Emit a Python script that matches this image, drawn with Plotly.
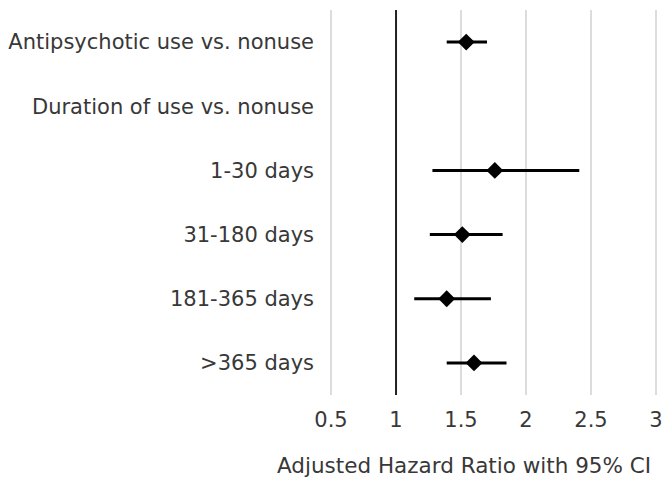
import plotly.graph_objects as go

categories = ["Antipsychotic use vs. nonuse", "Duration of use vs. nonuse",
              "1-30 days", "31-180 days", "181-365 days", ">365 days"]
hr = [1.54, None, 1.76, 1.51, 1.39, 1.60]
ci_low = [1.39, None, 1.28, 1.26, 1.14, 1.39]
ci_high = [1.70, None, 2.41, 1.82, 1.73, 1.85]
x_ticks = [0.5, 1, 1.5, 2, 2.5, 3]
x_tick_labels = ["0.5", "1", "1.5", "2", "2.5", "3"]
x_title = "Adjusted Hazard Ratio with 95% CI"

plus = [(h - v) if v is not None else None for v, h in zip(hr, ci_high)]
minus = [(v - l) if v is not None else None for v, l in zip(hr, ci_low)]

font = dict(family="DejaVu Sans, Verdana, sans-serif", size=21, color="#383838")

fig = go.Figure()
fig.add_trace(go.Scatter(
    x=hr, y=categories, mode="markers",
    marker=dict(symbol="diamond", size=13, color="black"),
    error_x=dict(type="data", symmetric=False, array=plus, arrayminus=minus,
                 thickness=3, width=0, color="black"),
    showlegend=False, hoverinfo="skip"))

fig.add_shape(type="line", x0=1, x1=1, y0=0, y1=1, xref="x", yref="paper",
              line=dict(color="#222222", width=2))

fig.add_annotation(text=x_title, xref="paper", yref="paper", x=0.41, y=-0.184,
                   xanchor="center", yanchor="middle", showarrow=False,
                   font=dict(size=21.5))

fig.update_layout(
    width=662, height=481,
    margin=dict(l=330, r=5, t=10, b=86),
    plot_bgcolor="white", paper_bgcolor="white",
    font=font,
    xaxis=dict(range=[0.492, 3.008], tickvals=x_ticks, ticktext=x_tick_labels,
               showgrid=True, gridcolor="#dcdcdc", gridwidth=2, zeroline=False,
               showline=False, ticks="", ticklabelstandoff=10, automargin=False,
               ticklabeloverflow="allow", tickfont=dict(size=21)),
    yaxis=dict(categoryorder="array", categoryarray=categories,
               autorange=False, range=[5.5, -0.5], showgrid=False,
               zeroline=False, showline=False, ticks="", ticklabelstandoff=15,
               automargin=False, tickfont=dict(size=21)),
)

fig.write_html("out.html",
               config={"displayModeBar": False},
               post_script="document.body.style.margin='0';"
                           "document.body.style.overflow='hidden';")
